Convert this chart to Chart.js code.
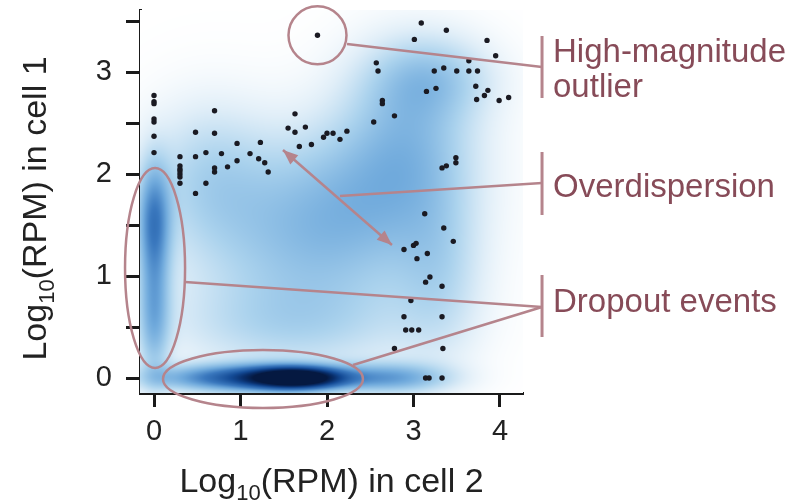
<!DOCTYPE html>
<html>
<head>
<meta charset="utf-8">
<script src="https://cdn.jsdelivr.net/npm/chart.js@4.4.1/dist/chart.umd.min.js"></script>
<style>
  html, body { margin: 0; padding: 0; background: #fff; }
  #wrap { width: 797px; height: 501px; }
</style>
</head>
<body>
<div id="wrap"><canvas id="chart" width="797" height="501"></canvas></div>
<script>
// scatter points
const ptsX = [
  0, 0, 0, 0, 0, 0, 0,
  0.30, 0.30, 0.30, 0.30, 0.30, 0.30, 0.30,
  0.48, 0.48, 0.48, 0.60, 0.60, 0.70, 0.70, 0.70, 0.70,
  0.78, 0.85, 0.96, 0.96, 1.11, 1.23, 1.21, 1.28, 1.32,
  1.63, 1.55, 1.63, 1.75, 1.68, 1.82, 1.96, 2.00, 2.07, 2.15, 2.23,
  1.89,
  2.57, 2.59, 2.64, 2.64, 2.78, 2.54,
  3.09, 3.38, 3.01, 3.85, 3.95, 3.64,
  3.24, 3.35, 3.50, 3.64, 3.74,
  3.15, 3.26, 3.72, 3.86, 3.82, 3.73, 3.99, 4.10,
  3.33, 3.38, 3.49, 3.49,
  3.13, 3.35, 3.46, 3.00, 3.03, 2.89,
  3.04, 3.16, 3.19, 3.14, 3.33, 2.97, 2.89, 3.33, 2.91, 2.98, 3.06, 2.78, 3.34,
  3.14, 3.18, 3.33
];
const ptsY = [
  2.77, 2.71, 2.69, 2.54, 2.51, 2.37, 2.21,
  2.17, 2.08, 2.05, 2.03, 2.00, 1.97, 1.91,
  2.41, 2.17, 1.81, 2.21, 1.91, 2.62, 2.40, 2.06, 2.02,
  2.20, 2.07, 2.30, 2.13, 2.20, 2.31, 2.15, 2.11, 2.02,
  2.59, 2.45, 2.41, 2.46, 2.27, 2.29, 2.36, 2.40, 2.40, 2.34, 2.42,
  3.36,
  3.09, 3.01, 2.72, 2.69, 2.57, 2.51,
  3.48, 3.41, 3.32, 3.31, 3.16, 3.11,
  3.01, 3.04, 3.01, 3.01, 3.01,
  2.81, 2.84, 2.86, 2.82, 2.77, 2.73, 2.72, 2.75,
  2.06, 2.08, 2.16, 2.11,
  1.61, 1.47, 1.34, 1.30, 1.32, 1.26,
  1.17, 1.22, 0.99, 0.94, 0.90, 0.76, 0.60, 0.60, 0.47, 0.47, 0.47, 0.29, 0.29,
  0.00, 0.00, 0.00
];

// density cloud as gaussian blobs: centre, spread, weight
const blobX  = [1.65, 1.10, 2.75, 0.00, 0.00, 1.80, 2.95, 3.20, 1.50, 0.60, 3.30, 2.20];
const blobY  = [0.00, 0.00, 0.00, 1.55, 0.65, 1.40, 2.30, 2.95, 0.50, 2.00, 1.00, 1.80];
const blobSX = [0.35, 0.70, 0.45, 0.13, 0.13, 0.95, 0.55, 0.50, 1.00, 0.50, 0.35, 0.60];
const blobSY = [0.07, 0.09, 0.10, 0.38, 0.45, 0.65, 0.60, 0.28, 0.30, 0.50, 0.60, 0.50];
const blobW  = [1.00, 0.60, 0.32, 0.40, 0.30, 0.25, 0.24, 0.17, 0.12, 0.14, 0.13, 0.07];

const xTicks = [0, 1, 2, 3, 4];
const yTicks = [0, 0.5, 1, 1.5, 2, 2.5, 3, 3.5];

const FONT = "'Liberation Sans', Arial, Helvetica, sans-serif";
const NOTE_TEXT = '#874b58';
const NOTE_LINE = '#b5848c';

// density -> colour
const cmapStops = [
  [0.00, [255, 255, 255]],
  [0.08, [224, 238, 248]],
  [0.20, [170, 210, 237]],
  [0.35, [112, 170, 220]],
  [0.50, [58, 120, 190]],
  [0.70, [20, 75, 150]],
  [0.85, [8, 45, 105]],
  [1.00, [5, 25, 65]]
];

function cmap(d) {
  if (d <= 0) return cmapStops[0][1];
  for (let i = 1; i < cmapStops.length; i++) {
    if (d <= cmapStops[i][0]) {
      const [t0, c0] = cmapStops[i - 1];
      const [t1, c1] = cmapStops[i];
      const f = (d - t0) / (t1 - t0);
      return [c0[0] + (c1[0] - c0[0]) * f, c0[1] + (c1[1] - c0[1]) * f, c0[2] + (c1[2] - c0[2]) * f];
    }
  }
  return cmapStops[cmapStops.length - 1][1];
}

const densityPlugin = {
  id: 'density',
  beforeDatasetsDraw(chart) {
    const { ctx, chartArea: a, scales: { x, y } } = chart;
    const w = Math.round(a.right - a.left), h = Math.round(a.bottom - a.top);
    const off = document.createElement('canvas');
    off.width = w; off.height = h;
    const octx = off.getContext('2d');
    const img = octx.createImageData(w, h);
    for (let j = 0; j < h; j++) {
      const vy = y.getValueForPixel(a.top + j + 0.5);
      for (let i = 0; i < w; i++) {
        const vx = x.getValueForPixel(a.left + i + 0.5);
        let d = 0;
        for (let k = 0; k < blobX.length; k++) {
          const dx = (vx - blobX[k]) / blobSX[k];
          const dy = (vy - blobY[k]) / blobSY[k];
          d += blobW[k] * Math.exp(-0.5 * (dx * dx + dy * dy));
        }
        const c = cmap(d);
        const p = (j * w + i) * 4;
        img.data[p] = c[0]; img.data[p + 1] = c[1]; img.data[p + 2] = c[2]; img.data[p + 3] = 255;
      }
    }
    octx.putImageData(img, 0, 0);
    ctx.drawImage(off, a.left, a.top);
  }
};

// annotation geometry in data units
const outlierIdx = 43;
const dropEllipses = [
  { cx: 0.012, cy: 1.078, rx: 0.347, ry: 0.980 },
  { cx: 1.260, cy: -0.010, rx: 1.156, ry: 0.284 }
];
const bracketX = 4.486;
const textX = 4.613;

function mixedText(ctx, parts, x, y) {
  // parts: [text, size, dy]
  let cx = x;
  parts.forEach(([t, size, dy]) => {
    ctx.font = size + 'px ' + FONT;
    ctx.fillText(t, cx, y + dy);
    cx += ctx.measureText(t).width;
  });
}
function mixedWidth(ctx, parts) {
  let w = 0;
  parts.forEach(([t, size]) => { ctx.font = size + 'px ' + FONT; w += ctx.measureText(t).width; });
  return w;
}

function arrowHead(ctx, x0, y0, x1, y1) {
  const ang = Math.atan2(y1 - y0, x1 - x0);
  const L = 15, W = 6;
  ctx.beginPath();
  ctx.moveTo(x1, y1);
  ctx.lineTo(x1 - L * Math.cos(ang) + W * Math.sin(ang), y1 - L * Math.sin(ang) - W * Math.cos(ang));
  ctx.lineTo(x1 - L * Math.cos(ang) - W * Math.sin(ang), y1 - L * Math.sin(ang) + W * Math.cos(ang));
  ctx.closePath();
  ctx.fill();
}

const notesPlugin = {
  id: 'notes',
  afterDraw(chart) {
    const { ctx, chartArea: a, scales: { x, y } } = chart;
    const px = v => x.getPixelForValue(v), py = v => y.getPixelForValue(v);
    const line = (x0, y0, x1, y1) => {
      ctx.beginPath(); ctx.moveTo(px(x0), py(y0)); ctx.lineTo(px(x1), py(y1)); ctx.stroke();
    };
    ctx.save();
    ctx.strokeStyle = NOTE_LINE;
    ctx.fillStyle = NOTE_LINE;
    ctx.lineWidth = 2.5;

    // outlier circle
    ctx.beginPath();
    ctx.arc(px(ptsX[outlierIdx]), py(ptsY[outlierIdx]), 29, 0, Math.PI * 2);
    ctx.stroke();
    line(2.231, 3.275, bracketX, 3.049);

    // overdispersion arrow
    line(1.491, 2.235, 2.751, 1.304);
    arrowHead(ctx, px(2.751), py(1.304), px(1.491), py(2.235));
    arrowHead(ctx, px(1.491), py(2.235), px(2.751), py(1.304));
    line(2.150, 1.784, bracketX, 1.912);

    // dropout ellipses
    dropEllipses.forEach(e => {
      ctx.beginPath();
      ctx.ellipse(px(e.cx), py(e.cy), px(e.cx + e.rx) - px(e.cx), py(e.cy) - py(e.cy + e.ry), 0, 0, Math.PI * 2);
      ctx.stroke();
    });
    line(0.358, 0.941, bracketX, 0.696);
    line(2.301, 0.127, bracketX, 0.696);

    // brackets
    ctx.lineWidth = 3;
    line(bracketX, 3.353, bracketX, 2.745);
    line(bracketX, 2.216, bracketX, 1.598);
    line(bracketX, 1.010, bracketX, 0.402);

    ctx.fillStyle = NOTE_TEXT;
    ctx.font = '33px ' + FONT;
    ctx.textBaseline = 'alphabetic';
    ctx.fillText('High-magnitude', px(textX), py(3.098));
    ctx.fillText('outlier', px(textX), py(2.755));
    ctx.fillText('Overdispersion', px(textX), py(1.775));
    ctx.fillText('Dropout events', px(textX), py(0.647));

    // axis titles with subscript
    ctx.fillStyle = '#222';
    const xt = [['Log', 34, 0], ['10', 22, 8], ['(RPM) in cell 2', 34, 0]];
    const yt = [['Log', 34, 0], ['10', 22, 8], ['(RPM) in cell 1', 34, 0]];
    const xw = mixedWidth(ctx, xt);
    mixedText(ctx, xt, (a.left + a.right) / 2 - xw / 2, 492);
    const yw = mixedWidth(ctx, yt);
    ctx.translate(46, (a.top + a.bottom) / 2 + 7);
    ctx.rotate(-Math.PI / 2);
    mixedText(ctx, yt, -yw / 2, 0);
    ctx.restore();
  }
};

document.addEventListener('DOMContentLoaded', () => {
  const points = ptsX.map((v, i) => ({ x: v, y: ptsY[i] }));
  const tickStyle = { drawOnChartArea: false, drawTicks: true, tickLength: 14, tickWidth: 3, tickColor: '#1a1a1a' };

  new Chart(document.getElementById('chart'), {
    type: 'scatter',
    data: {
      datasets: [{
        data: points,
        pointRadius: 2.7,
        pointBackgroundColor: '#1a1a22',
        pointBorderWidth: 0
      }]
    },
    options: {
      responsive: false,
      animation: false,
      layout: { padding: { left: 0, right: 274, top: 10, bottom: 0 } },
      plugins: { legend: { display: false }, tooltip: { enabled: false } },
      scales: {
        x: {
          type: 'linear',
          min: -0.162, max: 4.266,
          afterBuildTicks: s => { s.ticks = xTicks.map(v => ({ value: v })); },
          afterFit: s => { s.height = 108; s.paddingLeft = 0; s.paddingRight = 0; },
          grid: tickStyle,
          border: { color: '#1a1a1a', width: 3 },
          ticks: { font: { size: 29, family: FONT }, color: '#222', padding: 8, maxRotation: 0 }
        },
        y: {
          type: 'linear',
          min: -0.147, max: 3.608,
          afterBuildTicks: s => { s.ticks = yTicks.map(v => ({ value: v })); },
          afterFit: s => { s.width = 140; s.paddingTop = 0; s.paddingBottom = 0; },
          grid: tickStyle,
          border: { color: '#1a1a1a', width: 3 },
          ticks: {
            font: { size: 29, family: FONT }, color: '#222', padding: 14,
            callback: v => Number.isInteger(v) ? String(v) : ''
          }
        }
      }
    },
    plugins: [densityPlugin, notesPlugin]
  });
});
</script>
</body>
</html>
